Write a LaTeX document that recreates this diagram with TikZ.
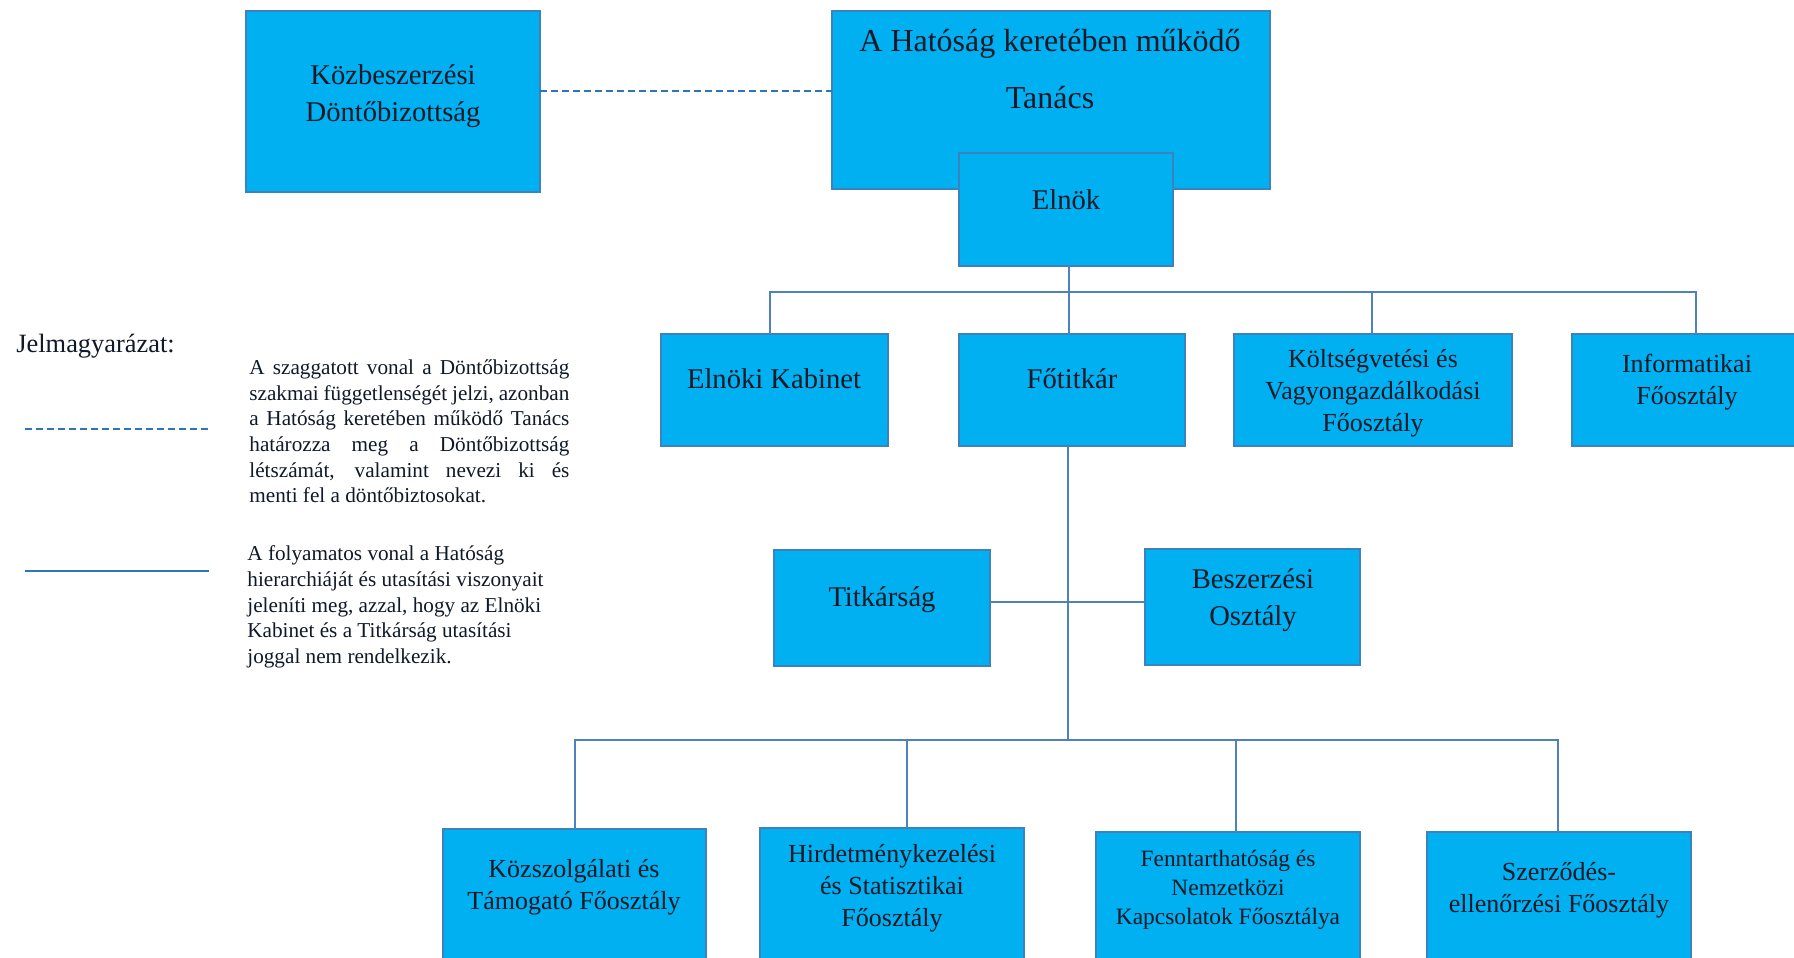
\documentclass[tikz,border=0pt]{standalone}
\usepackage{fontspec}
\setmainfont{Liberation Serif}
\definecolor{boxfill}{RGB}{0,176,240}
\definecolor{boxedge}{RGB}{60,130,190}
\definecolor{connc}{RGB}{79,129,189}
\definecolor{dashc}{RGB}{46,117,182}
\definecolor{txt}{RGB}{15,25,40}
\newcommand\orgbox[5]{\node[orgbx, minimum width={(#4-#2)*0.5pt}, minimum height={(#5-#3)*0.5pt}] (#1) at ({(#2+#4)/2},{(#3+#5)/2}) {};}
\begin{document}
\begin{tikzpicture}[x=0.5pt,y=-0.5pt,
  orgbx/.style={rectangle, draw=boxedge, fill=boxfill, line width=0.6pt, inner sep=0pt, outer sep=0pt},
  lbl/.style={align=center, text=txt, inner sep=0pt, font=\fontsize{14.3}{18.5}\selectfont},
  lblsmall/.style={lbl, font=\fontsize{13}{16}\selectfont},
  legtext/.style={align=left, text=txt, inner sep=0pt, font=\fontsize{10.6}{12.8}\selectfont},
  conn/.style={draw=connc, line width=1pt},
  dashconn/.style={draw=dashc, line width=1.1pt, dash pattern=on 3.5pt off 2pt}]
\clip (0,0) rectangle (1794,958);
\fill[white] (0,0) rectangle (1794,958);

% boxes
\orgbox{kdb}{246}{11}{540}{192}
\orgbox{tanacs}{832}{11}{1270}{189}
\orgbox{elnok}{959}{153}{1173}{266}
\orgbox{kabinet}{661}{334}{888}{446}
\orgbox{fotitkar}{959}{334}{1185}{446}
\orgbox{koltseg}{1234}{334}{1512}{446}
\orgbox{info}{1572}{334}{1810}{446}
\orgbox{titkar}{774}{550}{990}{666}
\orgbox{beszer}{1145}{549}{1360}{665}
\orgbox{kozszolg}{443}{829}{706}{975}
\orgbox{hirdet}{760}{828}{1024}{975}
\orgbox{fennt}{1096}{832}{1360}{975}
\orgbox{szerz}{1427}{832}{1691}{975}

% texts in boxes
\node[lbl] (tkdb) at (393,96.5) {Közbeszerzési\\Döntőbizottság};
\node[lbl, font=\fontsize{16}{28.5}\selectfont] (ttan) at (1050,69) {A Hatóság keretében működő\\Tanács};
\node[lbl] (telnok) at (1066,200) {Elnök};
\node[lbl] (tkab) at (774,379) {Elnöki Kabinet};
\node[lbl] (tfot) at (1072,379) {Főtitkár};
\node[lblsmall] (tkol) at (1373,393) {Költségvetési és\\Vagyongazdálkodási\\Főosztály};
\node[lblsmall] (tinfo) at (1687,382.5) {Informatikai\\Főosztály};
\node[lbl] (ttit) at (882,599.5) {Titkárság};
\node[lbl] (tbes) at (1253,600.5) {Beszerzési\\Osztály};
\node[lblsmall] (tkoz) at (574,887.5) {Közszolgálati és\\Támogató Főosztály};
\node[lblsmall] (thir) at (892,888.5) {Hirdetménykezelési\\és Statisztikai\\Főosztály};
\node[lbl, font=\fontsize{11.7}{14.5}\selectfont] (tfen) at (1228,889.5) {Fenntarthatóság és\\Nemzetközi\\Kapcsolatok Főosztálya};
\node[lblsmall] (tsze) at (1559,890.5) {Szerződés-\\ellenőrzési Főosztály};

% bus coordinates
\coordinate (dy) at (0,91);
\coordinate (tb) at (1069,292);
\coordinate (bb) at (1068,740);
\coordinate (kx) at (770,0);
\coordinate (cx) at (1372,0);
\coordinate (ix) at (1696,0);
\coordinate (ty) at (0,602);
\coordinate (x1) at (575,0);
\coordinate (x2) at (907,0);
\coordinate (x3) at (1236,0);
\coordinate (x4) at (1558,0);

% connectors
\draw[dashconn] (kdb.east |- dy) -- (tanacs.west |- dy);
\draw[conn] (elnok.south -| tb) -- (fotitkar.north -| tb);
\draw[conn] (kabinet.north -| kx) -- (kx |- tb) -- (ix |- tb) -- (info.north -| ix);
\draw[conn] (koltseg.north -| cx) -- (cx |- tb);
\draw[conn] (fotitkar.south -| bb) -- (bb);
\draw[conn] (titkar.east |- ty) -- (beszer.west |- ty);
\draw[conn] (kozszolg.north -| x1) -- (x1 |- bb) -- (x4 |- bb) -- (szerz.north -| x4);
\draw[conn] (hirdet.north -| x2) -- (x2 |- bb);
\draw[conn] (fennt.north -| x3) -- (x3 |- bb);

% legend
\node[text=txt, inner sep=0pt, anchor=west, font=\fontsize{13.2}{16}\selectfont] (leg) at (16,346.5) {Jelmagyarázat:};
\coordinate (ld1) at (25,429);
\coordinate (ld2) at (209,429);
\coordinate (ls1) at (25,571);
\coordinate (ls2) at (209,571);
\draw[dashconn, line width=1pt] (ld1) -- (ld2);
\draw[conn, draw=dashc] (ls1) -- (ls2);
\node[legtext, anchor=north west] (p1) at (249,359.5) {%
\makebox[160pt][s]{A szaggatott vonal a Döntőbizottság}\\
\makebox[160pt][s]{szakmai függetlenségét jelzi, azonban}\\
\makebox[160pt][s]{a Hatóság keretében működő Tanács}\\
\makebox[160pt][s]{határozza meg a Döntőbizottság}\\
\makebox[160pt][s]{létszámát, valamint nevezi ki és}\\
menti fel a döntőbiztosokat.};
\node[legtext, anchor=north west] (p2) at (247,545.5) {%
A folyamatos vonal a Hatóság\\
hierarchiáját és utasítási viszonyait\\
jeleníti meg, azzal, hogy az Elnöki\\
Kabinet és a Titkárság utasítási\\
joggal nem rendelkezik.};
\end{tikzpicture}
\end{document}
